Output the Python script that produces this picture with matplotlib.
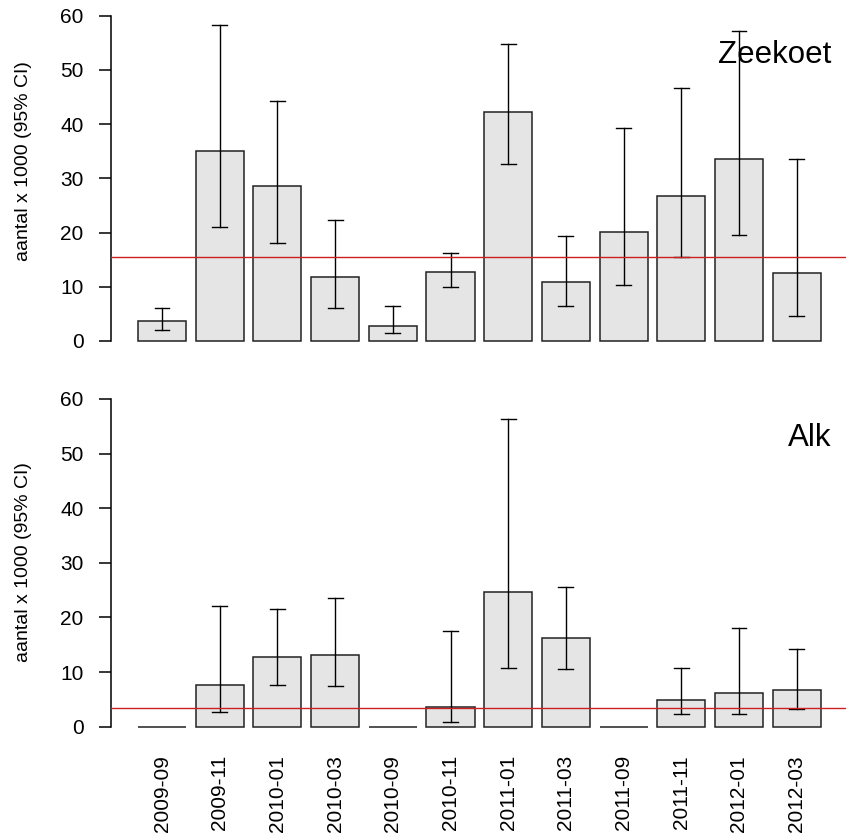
import matplotlib
matplotlib.use("Agg")
import matplotlib.pyplot as plt
import numpy as np

plt.rcParams['font.family'] = ['Liberation Sans', 'DejaVu Sans']

periods = ["2009-09", "2009-11", "2010-01", "2010-03", "2010-09", "2010-11",
           "2011-01", "2011-03", "2011-09", "2011-11", "2012-01", "2012-03"]

zeekoet_est = [3.6, 35.1, 28.5, 11.8, 2.8, 12.7, 42.2, 10.9, 20.1, 26.7, 33.5, 12.5]
zeekoet_lo = [2.0, 21.1, 18.1, 6.1, 1.4, 10.0, 32.6, 6.4, 10.4, 15.5, 19.6, 4.6]
zeekoet_hi = [6.1, 58.3, 44.3, 22.4, 6.4, 16.3, 54.8, 19.3, 39.3, 46.6, 57.2, 33.5]
zeekoet_ref = 15.5

alk_est = [0.0, 7.7, 12.7, 13.2, 0.0, 3.6, 24.6, 16.3, 0.0, 4.9, 6.2, 6.7]
alk_lo = [None, 2.6, 7.7, 7.4, None, 0.9, 10.7, 10.5, None, 2.4, 2.4, 3.3]
alk_hi = [None, 22.1, 21.5, 23.6, None, 17.6, 56.3, 25.6, None, 10.7, 18.0, 14.3]
alk_ref = 3.4

yticks = [0, 10, 20, 30, 40, 50, 60]

W, H = 846, 838
fig = plt.figure(figsize=(W / 100, H / 100), dpi=100)

left_px, right_px = 110.7, 848.0
xlim = (-0.368, 14.968)
ylim = (-2.4, 62.4)
centers = 0.7 + 1.2 * np.arange(len(periods))


def panel(top_px, bot_px, est, lo, hi, ref, title, show_x):
    ax = fig.add_axes([left_px / W, (H - bot_px) / H,
                       (right_px - left_px) / W, (bot_px - top_px) / H])
    ax.bar(centers, est, width=1.0, color='#E5E5E5', edgecolor='#222222',
           linewidth=1.1, zorder=2)
    cw = 0.155
    for c, l, h in zip(centers, lo, hi):
        if l is None:
            continue
        ax.plot([c, c], [l, h], color='black', lw=1.0, zorder=3)
        ax.plot([c - cw, c + cw], [l, l], color='black', lw=1.0, zorder=3)
        ax.plot([c - cw, c + cw], [h, h], color='black', lw=1.0, zorder=3)
    ax.axhline(ref, color='#CC1F1F', lw=1.0, zorder=4)
    ax.set_xlim(*xlim)
    ax.set_ylim(*ylim)
    for s in ['top', 'right', 'bottom']:
        ax.spines[s].set_visible(False)
    ax.spines['left'].set_bounds(0, 60)
    ax.spines['left'].set_linewidth(1.1)
    ax.set_yticks(yticks)
    ax.set_yticklabels([str(v) for v in yticks])
    ax.tick_params(axis='y', length=8.6, width=1.1, pad=11, labelsize=15)
    if show_x:
        ax.set_xticks(centers)
        ax.set_xticklabels(periods, rotation=90, fontsize=15)
        ax.tick_params(axis='x', length=0, pad=11)
    else:
        ax.set_xticks([])
    ax.text(14.63, 52.8, title, ha='right', va='center', fontsize=22.5, zorder=1)
    ax.set_ylabel('aantal x 1000 (95% CI)', fontsize=14)
    ycen = (H - (top_px + bot_px) / 2.0 + 17) / H
    ax.yaxis.set_label_coords(24 / W - left_px / W, 0.5, transform=None)
    ax.yaxis.label.set_position((0, 0))
    return ax


ax1 = panel(2.7, 354.0, zeekoet_est, zeekoet_lo, zeekoet_hi, zeekoet_ref, 'Zeekoet', False)
ax2 = panel(385.8, 739.8, alk_est, alk_lo, alk_hi, alk_ref, 'Alk', True)

# place y labels in figure coordinates
for ax, yc in [(ax1, 161), (ax2, 562)]:
    ax.yaxis.label.set_visible(False)
    fig.text(24 / W, (H - yc) / H, 'aantal x 1000 (95% CI)', rotation=90,
             ha='center', va='center', fontsize=14)

fig.savefig('out.png', dpi=100)
